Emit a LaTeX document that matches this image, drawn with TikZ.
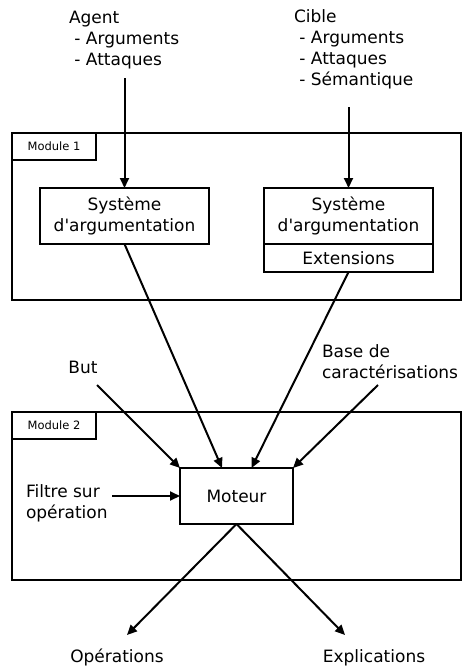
\documentclass[tikz,border=0pt]{standalone}
\usepackage{fontspec}
\setmainfont{DejaVu Sans}[Ligatures=TeXOff]
\usetikzlibrary{arrows.meta}

\begin{document}
\begin{tikzpicture}[x=1pt,y=-1pt,line width=2pt,
    font=\fontsize{17}{21}\selectfont,
    >={Triangle[length=10pt,width=9pt]},
    bloc/.style={draw,align=center,inner sep=0pt,outer sep=0pt,minimum width=169pt},
    cadre/.style={draw,inner sep=0pt,outer sep=0pt,minimum width=449pt},
    etiq/.style={draw,inner sep=0pt,outer sep=0pt,minimum width=84pt,minimum height=27pt,
      anchor=north west,font=\fontsize{11.5}{14}\selectfont},
    texte/.style={align=left,inner sep=0pt}]
  \useasboundingbox (0,0) rectangle (467,669);
  % les deux modules
  \node[cadre,minimum height=167pt] (mod1) at (236.5,216.5) {};
  \node[etiq] (lab1) at (mod1.north west) {Module 1};
  \node[cadre,minimum height=168pt] (mod2) at (236.5,496) {};
  \node[etiq] (lab2) at (mod2.north west) {Module 2};

  \node[bloc,minimum height=56pt] (sysA) at (124.5,216) {Système\\d'argumentation};
  \node[bloc,minimum height=56pt] (sysB) at (348.5,216) {Système\\d'argumentation};
  \node[bloc,minimum height=28pt,anchor=north] (ext) at (sysB.south) {Extensions};
  \node[bloc,minimum width=113pt,minimum height=56pt] (moteur) at (236.5,496) {Moteur};

  \node[texte,anchor=north west] (agent) at (68,10) {Agent\\\ - Arguments\\\ - Attaques};
  \node[texte,anchor=north west] (cible) at (293,9) {Cible\\\ - Arguments\\\ - Attaques\\\ - Sémantique};
  \node[texte,anchor=base] (but) at (83,373) {But};
  \node[texte,anchor=north west] (base) at (321,344) {Base de\\caractérisations};
  \node[texte,anchor=north west] (filtre) at (25,484) {Filtre sur\\opération};
  \node[texte,anchor=base] (op) at (117,662) {Opérations};
  \node[texte,anchor=base] (ex) at (374,662) {Explications};

  \coordinate (agentpied) at (sysA.north |- 0,78);
  \coordinate (ciblepied) at (sysB.north |- 0,107);
  \coordinate (butpied) at (97,385);
  \coordinate (basepied) at (378,385);
  \coordinate (filtrepied) at (112,496);
  \coordinate (oppied) at (127,635);
  \coordinate (expied) at (345,635);

  \draw[->] (agentpied) -- (sysA.north);
  \draw[->] (ciblepied) -- (sysB.north);
  \draw[->] (sysA.south) -- ([xshift=-14.5pt]moteur.north);
  \draw[->] (ext.south) -- ([xshift=15pt]moteur.north);
  \draw[->] (butpied) -- (moteur.north west);
  \draw[->] (basepied) -- (moteur.north east);
  \draw[->] (filtrepied) -- (moteur.west);
  \draw[->] (moteur.south) -- (oppied);
  \draw[->] (moteur.south) -- (expied);
\end{tikzpicture}
\end{document}
